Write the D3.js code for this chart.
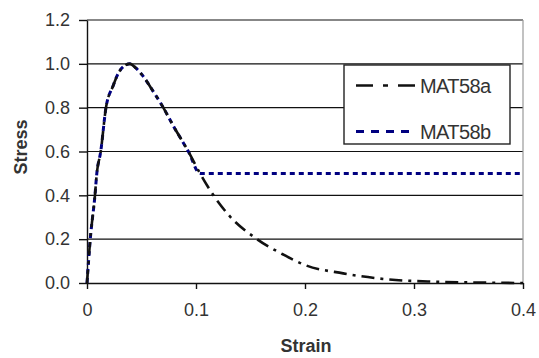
<!DOCTYPE html>
<html>
<head>
<meta charset="utf-8">
<script src="https://cdn.jsdelivr.net/npm/d3@7"></script>
<style>
  html, body { margin: 0; padding: 0; background: #fff; }
  svg { display: block; }
  text { font-family: "Liberation Sans", Arial, sans-serif; fill: #333; }
</style>
</head>
<body>
<svg id="chart" width="539" height="358"></svg>
<script>
// ---- data ----
const mat58aStrain = [0, 0.003, 0.0073, 0.009, 0.0126, 0.0174, 0.024, 0.028, 0.034, 0.0394, 0.045, 0.052, 0.06, 0.07, 0.08, 0.093, 0.1037, 0.116, 0.13, 0.156, 0.18, 0.2, 0.235, 0.275, 0.318, 0.36, 0.4];
const mat58aStress = [0, 0.2, 0.4, 0.5, 0.6, 0.8, 0.9, 0.95, 0.99, 1.0, 0.98, 0.94, 0.88, 0.8, 0.71, 0.6, 0.5, 0.4, 0.31, 0.2, 0.13, 0.082, 0.044, 0.017, 0.006, 0.002, 0];
const mat58bStrain = [0, 0.003, 0.0073, 0.009, 0.0126, 0.0174, 0.024, 0.028, 0.034, 0.0394, 0.045, 0.052, 0.06, 0.07, 0.08, 0.093, 0.1037, 0.2, 0.3, 0.4];
const mat58bStress = [0, 0.2, 0.4, 0.5, 0.6, 0.8, 0.9, 0.95, 0.99, 1.0, 0.98, 0.94, 0.88, 0.8, 0.71, 0.6, 0.5, 0.5, 0.5, 0.5];
const yTicks = [0, 0.2, 0.4, 0.6, 0.8, 1.0, 1.2];
const xTicks = [0, 0.1, 0.2, 0.3, 0.4];
const xTickLabels = ["0", "0.1", "0.2", "0.3", "0.4"];
const seriesNames = ["MAT58a", "MAT58b"];

// ---- layout ----
const svg = d3.select("#chart");
const mLeft = 87, mRight = 523, mTop = 20, mBottom = 283;
const x = d3.scaleLinear().domain([0, 0.4]).range([mLeft, mRight]);
const y = d3.scaleLinear().domain([0, 1.2]).range([mBottom, mTop]);

// gridlines
svg.append("g").selectAll("line").data(yTicks.filter(d => d > 0)).join("line")
  .attr("x1", mLeft).attr("x2", mRight)
  .attr("y1", d => y(d)).attr("y2", d => y(d))
  .attr("stroke", "#111").attr("stroke-width", 1.2);

// right border
svg.append("line").attr("x1", mRight).attr("x2", mRight).attr("y1", mTop).attr("y2", mBottom)
  .attr("stroke", "#999").attr("stroke-width", 1.2);

// y axis
const yAxis = svg.append("g").attr("transform", `translate(${mLeft},0)`)
  .call(d3.axisLeft(y).tickValues(yTicks).tickFormat(d3.format(".1f")).tickSize(8).tickSizeOuter(0).tickPadding(9));
// x axis
const xAxis = svg.append("g").attr("transform", `translate(0,${mBottom})`)
  .call(d3.axisBottom(x).tickValues(xTicks).tickFormat((d, i) => xTickLabels[i]).tickSize(6).tickSizeOuter(0).tickPadding(14));
[yAxis, xAxis].forEach(g => {
  g.selectAll("path.domain").attr("stroke", "#111").attr("stroke-width", 1.4);
  g.selectAll(".tick line").attr("stroke", "#111").attr("stroke-width", 1.4);
  g.selectAll("text").style("font-size", "18px").style("font-family", "'Liberation Sans', Arial, sans-serif").attr("fill", "#333");
});

// axis titles
svg.append("text").attr("x", 306).attr("y", 352).attr("text-anchor", "middle")
  .style("font-size", "18px").style("font-weight", "bold").text("Strain");
svg.append("text").attr("transform", "translate(27,147) rotate(-90)").attr("text-anchor", "middle")
  .style("font-size", "18px").style("font-weight", "bold").text("Stress");

// lines
const line = d3.line().x(d => x(d[0])).y(d => y(d[1])).curve(d3.curveMonotoneX);
const aData = mat58aStrain.map((s, i) => [s, mat58aStress[i]]);
const bData = mat58bStrain.map((s, i) => [s, mat58bStress[i]]);

svg.append("path").datum(bData).attr("d", line)
  .attr("fill", "none").attr("stroke", "#000080").attr("stroke-width", 3)
  .attr("stroke-dasharray", "5,4");
svg.append("path").datum(aData).attr("d", line)
  .attr("fill", "none").attr("stroke", "#111").attr("stroke-width", 2.6)
  .attr("stroke-dasharray", "13,6,3,6");

// legend
const lg = svg.append("g");
lg.append("rect").attr("x", 344).attr("y", 65).attr("width", 166).attr("height", 79)
  .attr("fill", "#fff").attr("stroke", "#222").attr("stroke-width", 1.4);
const legendItems = [
  { name: seriesNames[0], y: 85.5, stroke: "#111", dash: "17,10,5,10", w: 2.6, x2: 416 },
  { name: seriesNames[1], y: 131.5, stroke: "#000080", dash: "8,7", w: 3, x2: 411 }
];
legendItems.forEach(it => {
  lg.append("line").attr("x1", 356).attr("x2", it.x2).attr("y1", it.y).attr("y2", it.y)
    .attr("stroke", it.stroke).attr("stroke-width", it.w).attr("stroke-dasharray", it.dash);
  lg.append("text").attr("x", 420).attr("y", it.y + 7.5)
    .style("font-size", "20px").style("letter-spacing", "-0.6px").text(it.name);
});
</script>
</body>
</html>
